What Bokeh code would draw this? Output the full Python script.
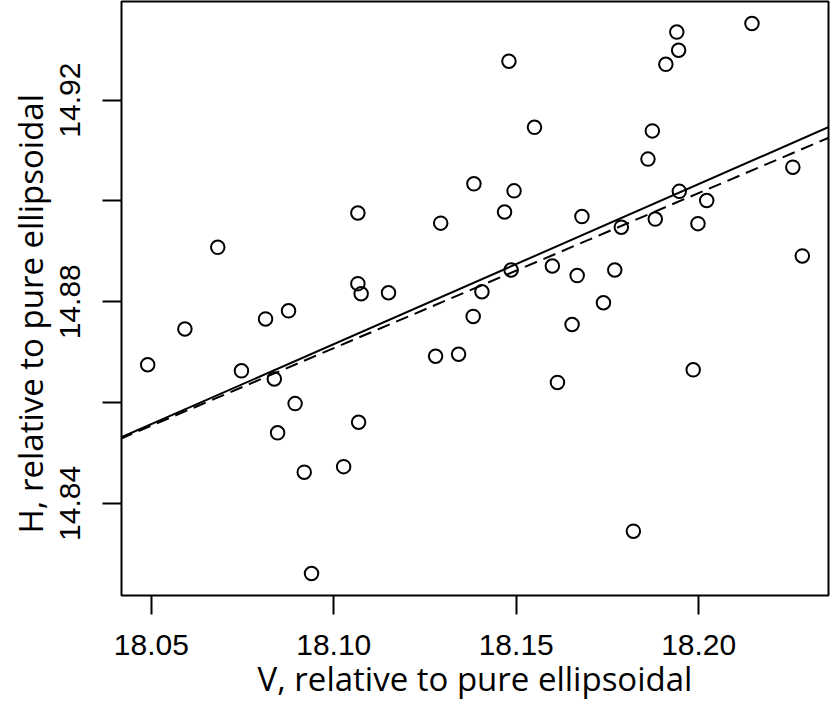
from bokeh.plotting import figure
from bokeh.models import FixedTicker, Range1d, Slope, Title
from bokeh.embed import file_html
from bokeh.resources import INLINE

# ---- data ----
V = [18.0490, 18.0592, 18.0682, 18.0747, 18.0813, 18.0837, 18.0876, 18.0894, 18.0846, 18.0919,
     18.0939, 18.1027, 18.1066, 18.1066, 18.1075, 18.1150, 18.1068, 18.1279, 18.1293, 18.1342,
     18.1384, 18.1382, 18.1406, 18.1468, 18.1480, 18.1486, 18.1494, 18.1550, 18.1599, 18.1613,
     18.1653, 18.1667, 18.1680, 18.1739, 18.1770, 18.1788, 18.1821, 18.1861, 18.1873, 18.1881,
     18.1910, 18.1940, 18.1945, 18.1947, 18.1985, 18.1998, 18.2022, 18.2146, 18.2258, 18.2284]
H = [14.8675, 14.8746, 14.8908, 14.8663, 14.8766, 14.8647, 14.8782, 14.8598, 14.8540, 14.8462,
     14.8261, 14.8473, 14.8976, 14.8836, 14.8816, 14.8818, 14.8561, 14.8692, 14.8956, 14.8696,
     14.9034, 14.8771, 14.8820, 14.8978, 14.9277, 14.8863, 14.9020, 14.9146, 14.8871, 14.8640,
     14.8755, 14.8852, 14.8969, 14.8798, 14.8863, 14.8948, 14.8345, 14.9083, 14.9139, 14.8964,
     14.9271, 14.9335, 14.9299, 14.9019, 14.8665, 14.8955, 14.9001, 14.9352, 14.9067, 14.8891]

x_ticks = [18.05, 18.10, 18.15, 18.20]
x_tick_labels = ["18.05", "18.10", "18.15", "18.20"]
y_ticks = [14.84, 14.86, 14.88, 14.90, 14.92]
y_tick_labels = ["14.84", "", "14.88", "", "14.92"]

# two fitted lines: slope and value at V = 18.10
fit_slope = [0.3175, 0.3077]
fit_at_18_10 = [14.8716, 14.8708]
fit_dash = ["solid", "13 7"]

x_title = "V, relative to pure ellipsoidal"
y_title = "H, relative to pure ellipsoidal"

# ---- plot ----
pad = 0.04
xr = max(V) - min(V)
yr = max(H) - min(H)

p = figure(width=831, height=712,
           x_range=Range1d(min(V) - pad * xr, max(V) + pad * xr),
           y_range=Range1d(min(H) - pad * yr, max(H) + pad * yr),
           output_backend="svg", toolbar_location=None,
           min_border_left=121, min_border_right=3, min_border_top=1, min_border_bottom=117)

p.background_fill_color = "white"
p.border_fill_color = "white"
p.outline_line_color = "black"
p.outline_line_width = 2
p.grid.visible = False

for s, v0, d in zip(fit_slope, fit_at_18_10, fit_dash):
    p.add_layout(Slope(gradient=s, y_intercept=v0 - s * 18.10,
                       line_color="black", line_width=2, line_dash=d))

p.scatter(V, H, marker="circle", size=13.5, fill_color=None,
          line_color="black", line_width=2)

p.xaxis.ticker = FixedTicker(ticks=x_ticks)
p.xaxis.major_label_overrides = dict(zip(x_ticks, x_tick_labels))
p.yaxis.ticker = FixedTicker(ticks=y_ticks)
p.yaxis.major_label_overrides = dict(zip(y_ticks, y_tick_labels))
p.yaxis.major_label_orientation = "vertical"

p.xaxis.axis_label = x_title

for ax in (p.xaxis, p.yaxis):
    ax.axis_line_color = None
    ax.major_tick_out = 19
    ax.major_tick_in = 0
    ax.major_tick_line_width = 2
    ax.major_tick_line_color = "black"
    ax.minor_tick_line_color = None
    ax.major_label_text_font = "Liberation Sans"
    ax.major_label_text_font_size = "30px"
    ax.major_label_text_color = "black"
    ax.axis_label_text_font = "Open Sans"
    ax.axis_label_text_font_size = "33px"
    ax.axis_label_text_font_style = "normal"
    ax.axis_label_text_color = "black"

p.xaxis.major_label_standoff = 20
p.xaxis.axis_label_standoff = -2
p.yaxis.major_label_standoff = 22

# y title as a left-side title, starting a little above the frame bottom like the reference
p.add_layout(Title(text=y_title, align="left", offset=62,
                   text_font="Open Sans", text_font_size="33px",
                   text_font_style="normal", text_color="black"), "left")

open("out.html", "w").write(file_html(p, INLINE))
